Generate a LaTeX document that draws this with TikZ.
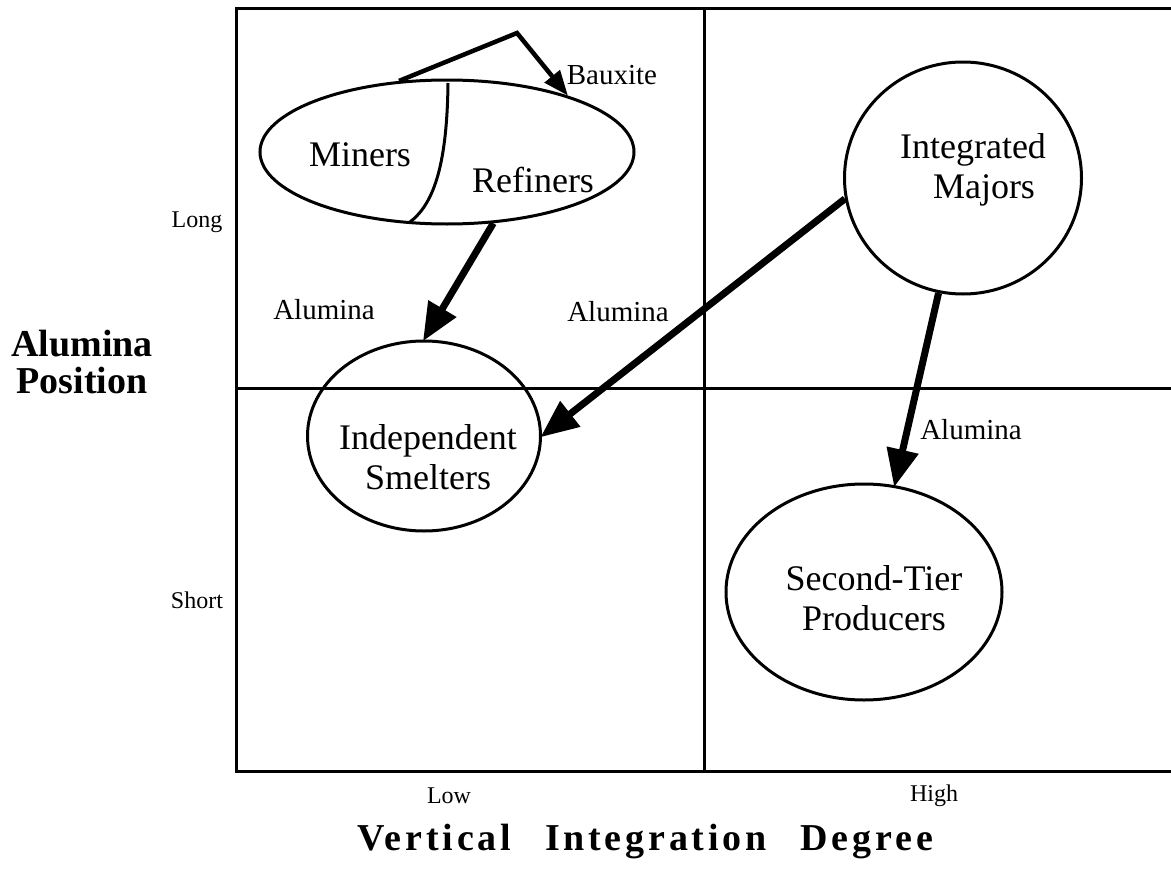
\documentclass[tikz,border=0pt]{standalone}
\usepackage{fontspec}
\setmainfont{Liberation Serif}
\newfontfamily\spacedfont{Liberation Serif}[LetterSpace=10]
\usetikzlibrary{arrows.meta,shapes.geometric}
\tikzset{
  frame/.style={line width=3pt, line cap=rect},
  oval/.style={draw, ellipse, line width=3pt, inner sep=0pt},
  bigtext/.style={font=\fontsize{36}{40}\selectfont, align=center, inner sep=0pt},
  flowlabel/.style={font=\fontsize{29}{32}\selectfont, inner sep=0pt},
  axislabel/.style={font=\fontsize{24}{28}\selectfont, inner sep=0pt},
  axistitle/.style={font=\fontsize{38}{37}\selectfont\bfseries, align=center, inner sep=0pt},
  flow/.style={line width=7pt, -{Triangle[length=38pt,width=31pt]}, shorten >=-2pt},
  thinflow/.style={line width=4.5pt, line join=miter, -{Triangle[length=25pt,width=19pt]}}
}
\begin{document}
\begin{tikzpicture}[x=1pt,y=-1pt]
\useasboundingbox[fill=white] (0,0) rectangle (1171,886);
% frame
\draw[frame] (1171,8) -- (236,8) -- (236,771) -- (1171,771);
\draw[frame] (704,8) -- (704,771);
\draw[frame] (236,388) -- (1171,388);
% shapes
\node[oval, minimum width=374pt, minimum height=144pt] (mr) at (447,152) {};
\draw[line width=3pt] (448,83) .. controls (447,170) and (432,205) .. (410,222);
\node[oval, minimum width=233pt, minimum height=190pt] (ind) at (424,436) {};
\node[oval, minimum width=237pt, minimum height=232pt] (maj) at (963,178) {};
\node[oval, minimum width=276pt, minimum height=216pt] (sec) at (864,592) {};
% texts
\node[bigtext] (tminers) at (360,155) {Miners};
\node[bigtext] (trefiners) at (533,180) {Refiners};
\node[bigtext] (tind) at (428,457) {Independent\\Smelters};
\node[bigtext] (tmaj) at (973,170) {Integrated\\\hspace*{22pt}Majors};
\node[bigtext] (tsec) at (874,598) {Second-Tier\\Producers};
% arrows
\coordinate (apex) at (517,33);
\draw[thinflow] (mr.124) -- (apex) -- (mr.25);
\draw[flow] (mr.-57.6) -- (ind.90);
\draw[flow] (maj.190) -- (ind.0);
\draw[flow] (maj.-102) -- (sec.74);
% flow labels
\node[flowlabel] (lbaux) at (612,75) {Bauxite};
\node[flowlabel] (la1) at (324,310) {Alumina};
\node[flowlabel] (la2) at (618,312) {Alumina};
\node[flowlabel] (la3) at (971,430) {Alumina};
% axis labels
\node[axislabel] (llong) at (197,222) {Long};
\node[axislabel] (lshort) at (197,600) {Short};
\node[axislabel] (llow) at (449,796) {Low};
\node[axislabel] (lhigh) at (934,796) {High};
\node[axistitle] (ytitle) at (82,362) {Alumina\\Position};
\node[axistitle, font=\fontsize{38}{44}\selectfont\spacedfont\bfseries] (xtitle) at (645,842) {Vertical\hspace{34pt}Integration\hspace{34pt}Degree};
\end{tikzpicture}
\end{document}
